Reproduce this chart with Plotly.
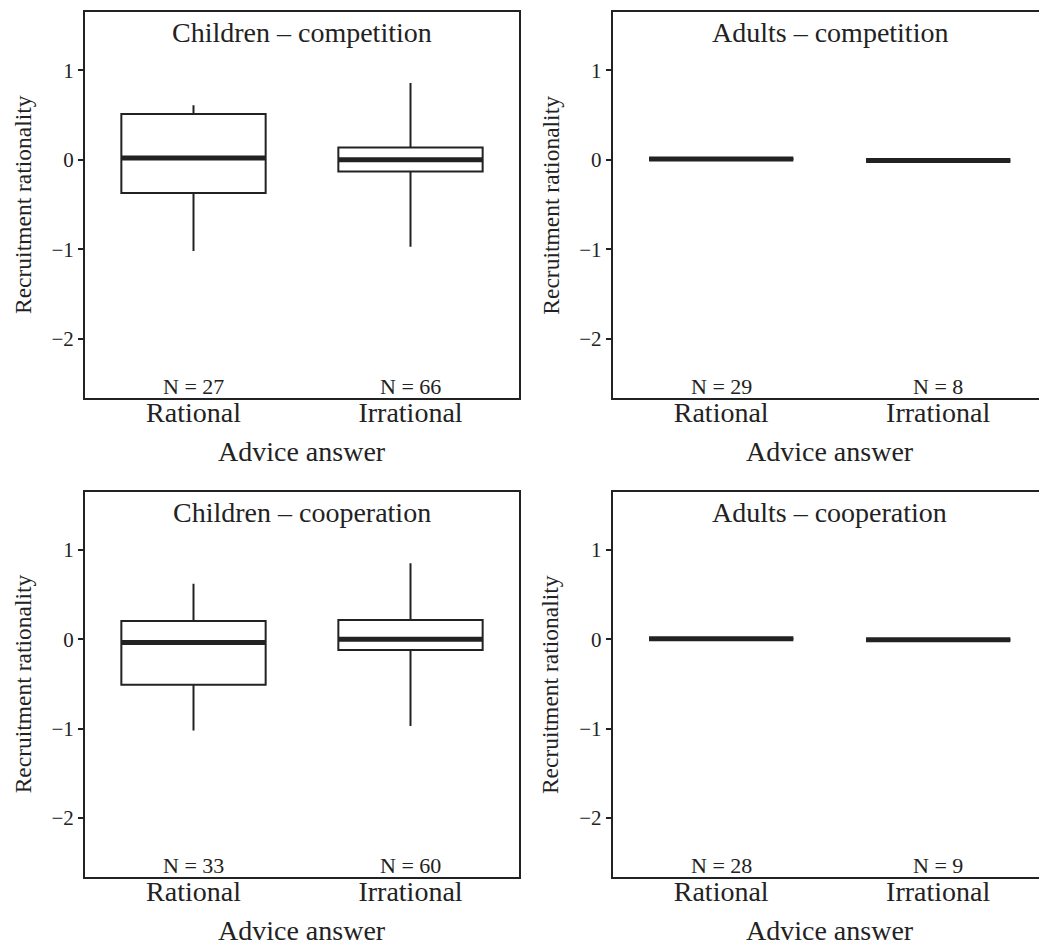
import plotly.graph_objects as go

# ---- data ----
categories = ["Rational", "Irrational"]
panel_titles = ["Children – competition", "Adults – competition",
                "Children – cooperation", "Adults – cooperation"]
n_counts = [[27, 66], [29, 8], [33, 60], [28, 9]]

q1 = [[-0.37, -0.13], [0.008, -0.008], [-0.51, -0.12], [0.006, -0.006]]
median = [[0.02, 0.0], [0.008, -0.008], [-0.037, 0.0], [0.006, -0.006]]
q3 = [[0.51, 0.137], [0.008, -0.008], [0.204, 0.216], [0.006, -0.006]]
lowerfence = [[-1.02, -0.97], [0.0, -0.02], [-1.02, -0.97], [0.0, -0.02]]
upperfence = [[0.61, 0.857], [0.01, 0.008], [0.62, 0.85], [0.008, 0.006]]

y_ticks = [-2, -1, 0, 1]
x_title = "Advice answer"
y_title = "Recruitment rationality"

# ---- layout constants ----
W, H = 1039, 945
FONT = "Liberation Serif, Times New Roman, serif"
INK = "#222222"
BOX_W = 0.665

left_x = (85, 519)
right_x = (612.7, 1039)
top_y = (12, 398)
bot_y = (491.7, 877)
px_per_cat = (519 - 85) / 2.0
panels = [(left_x, top_y), (right_x, top_y), (left_x, bot_y), (right_x, bot_y)]

fig = go.Figure()
xs = [0, 1]
annotations = []

for p, ((x0, x1), (y0, y1)) in enumerate(panels):
    xa = "x" if p == 0 else f"x{p+1}"
    ya = "y" if p == 0 else f"y{p+1}"
    fig.add_trace(go.Box(
        x=xs, q1=q1[p], median=median[p], q3=q3[p],
        lowerfence=lowerfence[p], upperfence=upperfence[p],
        width=BOX_W, whiskerwidth=0, boxpoints=False,
        line=dict(color=INK, width=2), fillcolor="white",
        xaxis=xa, yaxis=ya, showlegend=False, hoverinfo="skip"))
    # thick median bars
    mx, my = [], []
    for i, m in zip(xs, median[p]):
        mx += [i - BOX_W / 2, i + BOX_W / 2, None]
        my += [m, m, None]
    fig.add_trace(go.Scatter(x=mx, y=my, mode="lines",
                             line=dict(color=INK, width=5),
                             xaxis=xa, yaxis=ya, showlegend=False, hoverinfo="skip"))

    is_right = p % 2 == 1
    xr_max = -0.5 + (x1 - x0) / px_per_cat
    fig.update_layout(**{
        ("xaxis" if p == 0 else f"xaxis{p+1}"): dict(
            domain=[x0 / W, x1 / W], range=[-0.5, xr_max],
            tickvals=xs, ticktext=categories, ticks="",
            ticklabelstandoff=-12,
            tickfont=dict(family=FONT, size=28, color=INK),
            showline=True, linecolor=INK, linewidth=2, mirror=True,
            showgrid=False, zeroline=False, anchor=ya),
        ("yaxis" if p == 0 else f"yaxis{p+1}"): dict(
            domain=[1 - y1 / H, 1 - y0 / H], range=[-2.66, 1.65],
            tickvals=y_ticks, ticks="outside", ticklen=5, tickwidth=1.5,
            tickcolor=INK, tickfont=dict(family=FONT, size=21, color=INK),
            showline=True, linecolor=INK, linewidth=2, mirror=not is_right,
            showgrid=False, zeroline=False, anchor=xa),
    })

    cx = (x0 + (x0 + 434)) / 2.0
    # panel title
    annotations.append(dict(text=panel_titles[p], x=cx / W, y=1 - (y0 + 20.5) / H,
                            xref="paper", yref="paper", showarrow=False,
                            xanchor="center", yanchor="middle",
                            font=dict(family=FONT, size=28, color=INK)))
    # N labels
    for i, n in zip(xs, n_counts[p]):
        annotations.append(dict(text=f"N = {n}", x=i, y=1 - (y1 - 11.5) / H,
                                xref=xa, yref="paper", showarrow=False,
                                xanchor="center", yanchor="middle",
                                font=dict(family=FONT, size=22, color=INK)))
    # x axis title
    annotations.append(dict(text=x_title, x=cx / W, y=1 - (y1 + 53) / H,
                            xref="paper", yref="paper", showarrow=False,
                            xanchor="center", yanchor="middle",
                            font=dict(family=FONT, size=28, color=INK)))
    # y axis title
    annotations.append(dict(text=y_title, x=(x0 - 62) / W, y=1 - ((y0 + y1) / 2) / H,
                            xref="paper", yref="paper", showarrow=False, textangle=-90,
                            xanchor="center", yanchor="middle",
                            font=dict(family=FONT, size=23.5, color=INK)))

fig.update_layout(width=W, height=H, margin=dict(l=0, r=0, t=0, b=0),
                  paper_bgcolor="white", plot_bgcolor="white",
                  annotations=annotations, showlegend=False)

fig.write_html("out.html")
